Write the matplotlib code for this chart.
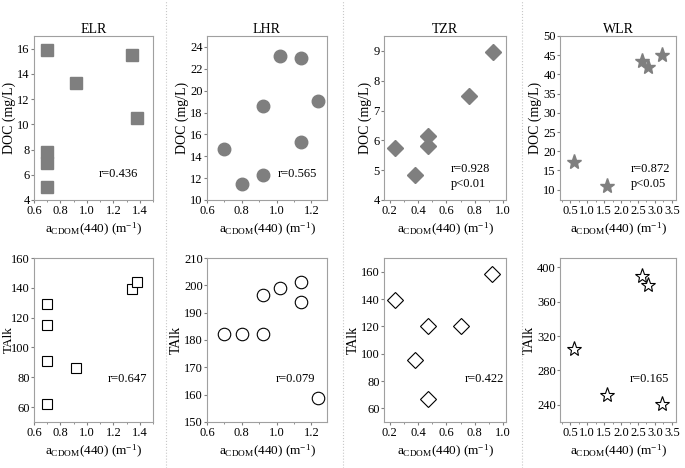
import matplotlib
matplotlib.use('Agg')
import matplotlib.pyplot as plt
from matplotlib.ticker import MultipleLocator

plt.rcParams['font.family'] = ['Liberation Serif', 'DejaVu Serif']
plt.rcParams['mathtext.fontset'] = 'custom'
plt.rcParams['mathtext.rm'] = 'Liberation Serif'
plt.rcParams['mathtext.it'] = 'Liberation Serif:italic'

# data
elr_x = [0.70, 0.70, 0.70, 0.70, 0.92, 1.34, 1.38]
elr_doc = [15.9, 7.8, 6.9, 5.0, 13.3, 15.5, 10.5]
elr_talk = [129.4, 115.1, 91.0, 62.2, 86.3, 139.1, 143.6]

lhr_x = [0.70, 0.80, 0.92, 0.92, 1.02, 1.14, 1.14, 1.24]
lhr_doc = [14.65, 11.44, 18.56, 12.26, 23.18, 22.97, 15.29, 19.02]
lhr_talk = [182.2, 182.2, 196.6, 182.2, 198.9, 201.2, 193.9, 158.6]

tzr_x_doc = [0.24, 0.38, 0.47, 0.47, 0.76, 0.93]
tzr_doc = [5.73, 4.83, 5.80, 6.14, 7.49, 8.98]
tzr_x_talk = [0.24, 0.38, 0.47, 0.47, 0.70, 0.92]
tzr_talk = [139.0, 95.7, 119.9, 66.9, 119.9, 158.5]

wlr_x = [0.60, 1.58, 2.61, 2.80, 3.21]
wlr_doc = [17.1, 10.95, 43.5, 41.8, 45.1]
wlr_talk = [305.0, 252.0, 389.5, 379.8, 240.4]

titles = ['ELR', 'LHR', 'TZR', 'WLR']
r_doc = ['r=0.436', 'r=0.565', 'r=0.928\np<0.01', 'r=0.872\np<0.05']
r_talk = ['r=0.647', 'r=0.079', 'r=0.422', 'r=0.165']

W, H = 685, 468
fig = plt.figure(figsize=(W / 100, H / 100), dpi=100)

def rect(x0, y0, x1, y1):
    return [x0 / W, 1 - y1 / H, (x1 - x0) / W, (y1 - y0) / H]

cols = [(34, 153), (207, 327), (384, 506), (560, 676)]
xlims = [(0.6, 1.5), (0.6, 1.29), (0.16, 1.02), (0.2, 3.62)]
xmaj = [0.2, 0.2, 0.2, 0.5]
doc_ylim = [(4, 17), (10, 25), (4, 9.5), (7.3, 50)]
doc_step = [2, 2, 1, 5]
talk_ylim = [(50, 160), (150, 210), (50, 170), (220, 411)]
talk_step = [20, 10, 20, 40]
markers = ['s', 'o', 'D', '*']
msizes = [8.5, 9, 8, 11]
xs_doc = [elr_x, lhr_x, tzr_x_doc, wlr_x]
ys_doc = [elr_doc, lhr_doc, tzr_doc, wlr_doc]
xs_talk = [elr_x, lhr_x, tzr_x_talk, wlr_x]
ys_talk = [elr_talk, lhr_talk, tzr_talk, wlr_talk]
txt_x_doc = [0.54, 0.59, 0.55, 0.61]
txt_x_talk = [0.62, 0.57, 0.66, 0.60]

xlabel = r'a$_{\mathrm{CDOM}}$(440) (m$^{\mathrm{-1}}$)'

def style(ax, i):
    for s in ax.spines.values():
        s.set_color('#a0a0a0')
        s.set_linewidth(0.8)
    ax.tick_params(which='both', direction='out', color='#808080', labelsize=9, pad=1)
    ax.tick_params(axis='y', pad=0.5)
    ax.tick_params(which='major', length=2.5)
    ax.tick_params(which='minor', length=1.5)
    ax.set_xlim(*xlims[i])
    ax.xaxis.set_major_locator(MultipleLocator(xmaj[i]))
    ax.xaxis.set_minor_locator(MultipleLocator(xmaj[i] / 2))
    ax.set_xlabel(xlabel, fontsize=9.5, labelpad=3)

for i in range(4):
    x0, x1 = cols[i]
    ax = fig.add_axes(rect(x0, 36, x1, 200))
    ax.plot(xs_doc[i], ys_doc[i], linestyle='none', marker=markers[i],
            markersize=msizes[i], color='#7f7f7f', markeredgecolor='#7f7f7f')
    style(ax, i)
    ax.set_ylim(*doc_ylim[i])
    ax.yaxis.set_major_locator(MultipleLocator(doc_step[i]))
    ax.set_ylabel('DOC (mg/L)', fontsize=10, labelpad=1)
    ax.set_title(titles[i], fontsize=10, pad=1.5)
    ax.text(txt_x_doc[i], 0.06 if '\n' in r_doc[i] else 0.16, r_doc[i],
            transform=ax.transAxes, fontsize=9, va='bottom' if '\n' in r_doc[i] else 'center',
            linespacing=1.3)

    ax = fig.add_axes(rect(x0, 258, x1, 422))
    ax.plot(xs_talk[i], ys_talk[i], linestyle='none', marker=markers[i],
            markersize=msizes[i] - (1 if i == 0 else 0), markerfacecolor='white',
            markeredgecolor='black', markeredgewidth=0.8)
    style(ax, i)
    ax.set_ylim(*talk_ylim[i])
    ax.yaxis.set_major_locator(MultipleLocator(talk_step[i]))
    if i == 0:
        # three-digit ticks leave little room at the left edge
        ax.set_ylabel('TAlk', fontsize=9.5)
        ax.yaxis.set_label_coords(-0.165, 0.5)
    else:
        ax.set_ylabel('TAlk', fontsize=10, labelpad=1)
    ax.text(txt_x_talk[i], 0.26, r_talk[i], transform=ax.transAxes,
            fontsize=9, va='center')

# dotted separators between columns
for xp in [166, 343, 522]:
    fig.add_artist(plt.Line2D([xp / W, xp / W], [0, 1], transform=fig.transFigure,
                              color='#c8c8c8', linestyle=':', linewidth=0.8))

fig.savefig('out.png', dpi=100, facecolor='white')
